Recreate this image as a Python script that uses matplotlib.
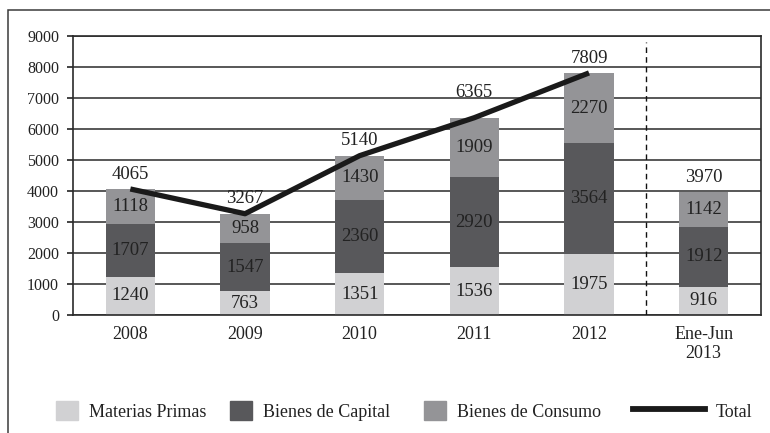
import numpy as np
import matplotlib
matplotlib.use('Agg')
import matplotlib.pyplot as plt
from matplotlib.patches import Rectangle, Patch
from matplotlib.lines import Line2D

categories = ['2008', '2009', '2010', '2011', '2012', 'Ene-Jun\n2013']
materias_primas = [1240, 763, 1351, 1536, 1975, 916]
bienes_capital = [1707, 1547, 2360, 2920, 3564, 1912]
bienes_consumo = [1118, 958, 1430, 1909, 2270, 1142]
totals = [4065, 3267, 5140, 6365, 7809, 3970]
line_years = 5  # Total line drawn for 2008-2012 only

c_light = '#d1d1d3'
c_dark = '#58585b'
c_mid = '#949497'
c_line = '#1a1a1a'
txt = '#222222'

plt.rcParams['font.family'] = ['Liberation Serif', 'DejaVu Serif']

fig = plt.figure(figsize=(7.7, 4.33), dpi=100)
ax = fig.add_axes([73/770, 1-315/433, (761-73)/770, (315-36)/433])

x = np.arange(len(categories))
w = 0.43
mp = np.array(materias_primas)
bc = np.array(bienes_capital)
bs = np.array(bienes_consumo)

ax.bar(x, mp, w, color=c_light, zorder=2)
ax.bar(x, bc, w, bottom=mp, color=c_dark, zorder=2)
ax.bar(x, bs, w, bottom=mp+bc, color=c_mid, zorder=2)
ax.plot(x[:line_years], totals[:line_years], color=c_line, lw=3.8, zorder=4,
        solid_capstyle='butt')

fs = 13.5
for i in range(len(x)):
    ax.text(x[i], mp[i]/2, str(mp[i]), ha='center', va='center', fontsize=fs, color=txt, zorder=5)
    ax.text(x[i], mp[i]+bc[i]/2, str(bc[i]), ha='center', va='center', fontsize=fs, color=txt, zorder=5)
    ax.text(x[i], mp[i]+bc[i]+bs[i]/2, str(bs[i]), ha='center', va='center', fontsize=fs, color=txt, zorder=5)
    off = 800 if i == 3 else 480
    ax.text(x[i], mp[i]+bc[i]+bs[i]+off, str(totals[i]), ha='center', va='center',
            fontsize=fs, color=txt, zorder=5)

ax.axvline(4.5, ymin=0, ymax=0.978, color='#111111', lw=1.0, ls=(0, (4, 3)), zorder=3)

ax.set_xlim(-0.5, 5.5)
ax.set_ylim(0, 9000)
ax.set_yticks(np.arange(0, 9001, 1000))
ax.set_xticks(x)
ax.set_xticklabels(categories, fontsize=13, color=txt, linespacing=1.15)
ax.tick_params(axis='x', length=0, pad=8)
ax.tick_params(axis='y', length=4, width=1.2, pad=6, labelsize=11.5, labelcolor=txt, colors='#222222')
ax.grid(axis='y', color='#2a2a2a', lw=1.1, zorder=1)
ax.set_axisbelow(True)
for s in ax.spines.values():
    s.set_color('#2a2a2a')
    s.set_linewidth(1.2)

# outer frame
fig.add_artist(Rectangle((8/770, -0.1), 1.2, 1.1-10/433, transform=fig.transFigure,
                         fill=False, ec='#3a3a3a', lw=1.1, clip_on=False))

# legend
handles = [
    (Patch(color=c_light), 'Materias Primas', 56),
    (Patch(color=c_dark), 'Bienes de Capital', 230),
    (Patch(color=c_mid), 'Bienes de Consumo', 424),
    (Line2D([], [], color=c_line, lw=4.2), 'Total', 633),
]
for h, lab, px in handles:
    is_line = isinstance(h, Line2D)
    leg = fig.legend([h], [lab], loc='center left', bbox_to_anchor=(px/770, 1-411/433),
                     frameon=False, fontsize=13, borderpad=0, borderaxespad=0,
                     handlelength=4.0 if is_line else 1.22, handleheight=1.22,
                     handletextpad=0.6)
    for t in leg.get_texts():
        t.set_color(txt)

fig.savefig('out.png', dpi=100)
